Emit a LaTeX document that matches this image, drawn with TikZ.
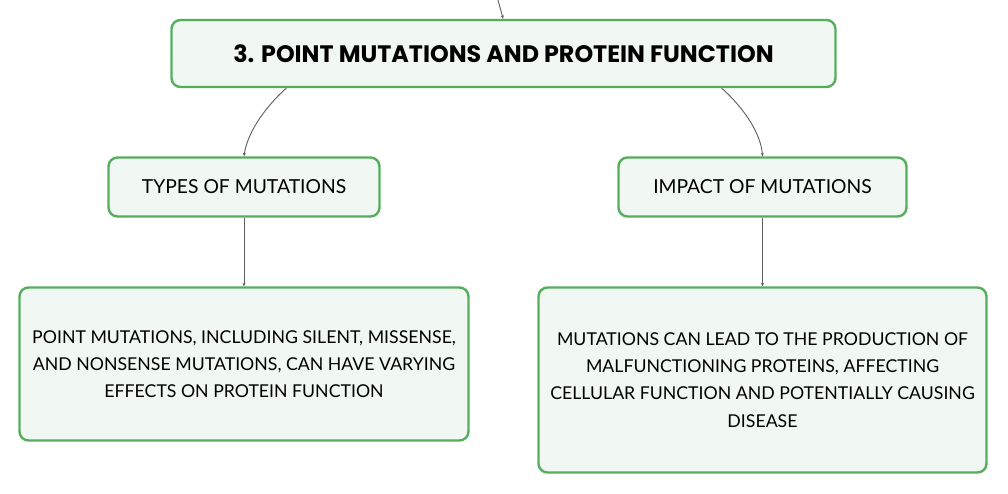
\documentclass[tikz,border=0pt]{standalone}
\usepackage{fontspec}
\setmainfont{Lato}
\newfontfamily\titlefont{Poppins}
\usetikzlibrary{arrows.meta}
\definecolor{boxgreen}{HTML}{55AE5C}
\definecolor{boxfill}{HTML}{F1F8F3}
\definecolor{linkgray}{HTML}{5E5E5E}
\tikzset{
  box/.style={draw=boxgreen, fill=boxfill, line width=2.4pt, rounded corners=9pt, inner sep=0pt, align=center},
  link/.style={draw=linkgray, line width=0.9pt, -{Stealth[length=3.5pt,width=3pt]}},
  headtext/.style={font=\fontsize{19.3}{24}\selectfont},
  bodytext/.style={font=\fontsize{17.7}{27.3}\selectfont}
}
\begin{document}
\begin{tikzpicture}[x=1pt,y=-1pt]
\useasboundingbox (0,0) rectangle (1008,494);
\node[box, minimum width=664pt, minimum height=67pt, font=\titlefont\bfseries\fontsize{23.8}{28}\selectfont] (top) at (503.5,53.5) {3. POINT MUTATIONS AND PROTEIN FUNCTION};
\node[box, minimum width=271pt, minimum height=59pt, headtext] (types) at (244,187) {TYPES OF MUTATIONS};
\node[box, minimum width=288pt, minimum height=59pt, headtext] (impact) at (762.5,187) {IMPACT OF MUTATIONS};
\node[box, minimum width=449pt, minimum height=153pt, bodytext] (pm) at (244,364) {POINT MUTATIONS, INCLUDING SILENT, MISSENSE,\\AND NONSENSE MUTATIONS, CAN HAVE VARYING\\EFFECTS ON PROTEIN FUNCTION};
\node[box, minimum width=448pt, minimum height=185pt, bodytext] (mc) at (762.5,380) {MUTATIONS CAN LEAD TO THE PRODUCTION OF\\MALFUNCTIONING PROTEINS, AFFECTING\\CELLULAR FUNCTION AND POTENTIALLY CAUSING\\DISEASE};
\coordinate (above) at (498,0);
\draw[link] (above) .. controls (500,8) and (502,14) .. ([xshift=-0.5pt]top.north);
\draw[link] ([xshift=116pt]top.south west) .. controls (262,110) and (247,135) .. (types.north);
\draw[link] ([xshift=-115pt]top.south east) .. controls (746,110) and (761,135) .. (impact.north);
\draw[link] (types.south) -- (pm.north);
\draw[link] (impact.south) -- (mc.north);
\end{tikzpicture}
\end{document}
